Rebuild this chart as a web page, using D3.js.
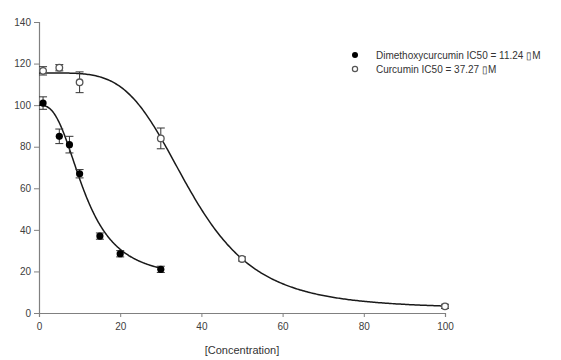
<!DOCTYPE html>
<html><head><meta charset="utf-8">
<script src="https://cdn.jsdelivr.net/npm/d3@7"></script>
<style>
html,body{margin:0;padding:0;background:#fff;}
svg text{font-family:"Liberation Sans",Arial,sans-serif;}
</style></head>
<body><svg id="chart" width="561" height="360"></svg>
<script>
// Data
const dmcConc = [1, 5, 7.5, 10, 15, 20, 30];
const dmcMean = [101, 85, 81, 67, 37, 28.5, 21];
const dmcErr  = [3, 3.5, 4, 2, 1.5, 1.5, 1.5];
const curConc = [1, 5, 10, 30, 50, 100];
const curMean = [116.5, 118, 111, 84, 26, 3.2];
const curErr  = [2, 1.5, 5, 5, 1, 1];
// 4-parameter logistic fit: [top, bottom, IC50, hill, xmax]
const dmcFit = [100, 16, 11.24, 2.7, 30];
const curFit = [115.5, 2, 37.27, 4.47, 100];
const legendLabels = ["Dimethoxycurcumin IC50 = 11.24 \u25AFM", "Curcumin IC50 = 37.27 \u25AFM"];
const xTicks = [0, 20, 40, 60, 80, 100];
const yTicks = [0, 20, 40, 60, 80, 100, 120, 140];
const xTitle = "[Concentration]";

const svg = d3.select("#chart");
const x = d3.scaleLinear().domain([0, 100]).range([39, 445]);
const y = d3.scaleLinear().domain([0, 140]).range([313, 22]);

// axes
const gx = svg.append("g").attr("transform", `translate(0,${y(0)})`)
  .call(d3.axisBottom(x).tickValues(xTicks).tickSizeOuter(0).tickSize(4).tickPadding(6));
const gy = svg.append("g").attr("transform", `translate(${x(0)},0)`)
  .call(d3.axisLeft(y).tickValues(yTicks).tickSizeOuter(0).tickSize(5).tickPadding(3));
[gx, gy].forEach(g => {
  g.select(".domain").attr("stroke", "#808080").attr("stroke-width", 1.2);
  g.selectAll(".tick line").attr("stroke", "#808080");
  g.selectAll(".tick text").attr("fill", "#404040").attr("font-size", 10)
    .attr("font-family", "Liberation Sans, Arial, sans-serif");
});

svg.append("text").attr("x", (x(0) + x(100)) / 2).attr("y", 354)
  .attr("text-anchor", "middle").attr("font-size", 11).attr("fill", "#333").text(xTitle);

// fit curves
function logistic(p) {
  return v => p[1] + (p[0] - p[1]) / (1 + Math.pow(v / p[2], p[3]));
}
const line = d3.line().x(d => x(d[0])).y(d => y(d[1])).curve(d3.curveLinear);
[dmcFit, curFit].forEach(p => {
  const f = logistic(p);
  const pts = d3.range(0, p[4] + 0.001, p[4] / 300).map(v => [v, f(v)]);
  svg.append("path").attr("d", line(pts)).attr("fill", "none")
    .attr("stroke", "#1a1a1a").attr("stroke-width", 1.5);
});

// error bars
function errBars(conc, mean, err) {
  const g = svg.append("g").attr("stroke", "#333").attr("stroke-width", 1);
  conc.forEach((c, i) => {
    const cx = x(c), y1 = y(mean[i] + err[i]), y2 = y(mean[i] - err[i]);
    g.append("line").attr("x1", cx).attr("x2", cx).attr("y1", y1).attr("y2", y2);
    g.append("line").attr("x1", cx - 4).attr("x2", cx + 4).attr("y1", y1).attr("y2", y1);
    g.append("line").attr("x1", cx - 4).attr("x2", cx + 4).attr("y1", y2).attr("y2", y2);
  });
}
errBars(dmcConc, dmcMean, dmcErr);
errBars(curConc, curMean, curErr);

// markers
svg.append("g").selectAll("circle").data(dmcConc).join("circle")
  .attr("cx", d => x(d)).attr("cy", (d, i) => y(dmcMean[i])).attr("r", 3.6)
  .attr("fill", "#000");
svg.append("g").selectAll("circle").data(curConc).join("circle")
  .attr("cx", d => x(d)).attr("cy", (d, i) => y(curMean[i])).attr("r", 3.3)
  .attr("fill", "#fff").attr("stroke", "#555").attr("stroke-width", 1.3);

// legend
const lg = svg.append("g");
lg.append("circle").attr("cx", 355).attr("cy", 55).attr("r", 3).attr("fill", "#000");
lg.append("circle").attr("cx", 355).attr("cy", 69).attr("r", 2.6).attr("fill", "#fff")
  .attr("stroke", "#555").attr("stroke-width", 1.2);
legendLabels.forEach((t, i) => {
  lg.append("text").attr("x", 376).attr("y", 59 + i * 14).attr("font-size", 10)
    .attr("fill", "#333").text(t);
});
</script></body></html>
